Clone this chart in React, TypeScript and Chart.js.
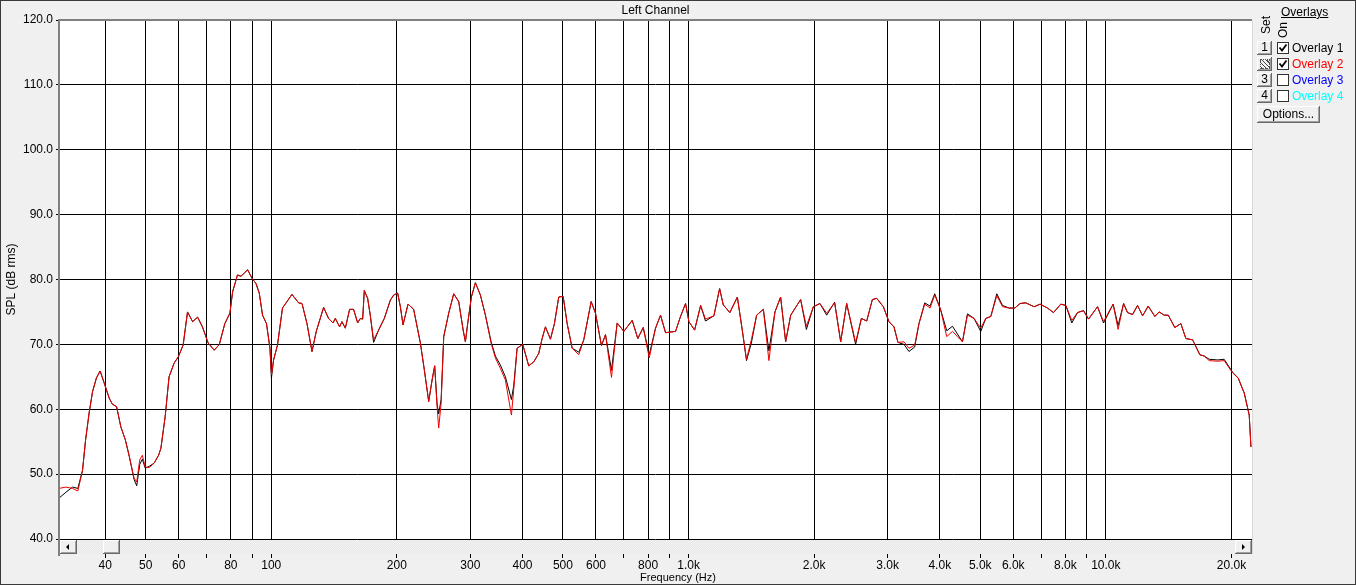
import React, { useEffect, useRef } from 'react';
import { Chart, registerables } from 'chart.js';

Chart.register(...registerables);

// ---------- data ----------
const FREQ_HZ = [
  31.0, 32.2, 33.4, 34.4, 35.3, 35.9, 36.6, 37.3, 38.1, 38.9,
  39.8, 40.9, 41.6, 42.6, 43.6, 44.7, 45.7, 46.9, 47.6, 48.4,
  49.1, 49.9, 51.0, 52.4, 53.7, 54.4, 55.7, 56.9, 58.5, 59.9,
  61.5, 63.0, 64.8, 66.6, 68.4, 70.6, 73.0, 75.1, 77.4, 79.6,
  80.8, 83.0, 84.6, 86.2, 87.8, 89.9, 91.9, 93.6, 95.3, 97.4,
  99.3, 100.1, 101.3, 103.5, 106.4, 112.1, 116.3, 118.5, 121.8, 125.2,
  128.2, 133.5, 137.2, 140.6, 142.4, 145.8, 147.7, 150.5, 154.1, 157.5,
  161.1, 163.5, 165.6, 167.1, 170.2, 172.7, 175.9, 180.8, 186.6, 192.9,
  196.5, 200.9, 203.9, 206.9, 212.7, 219.4, 227.7, 232.8, 238.4, 242.9,
  246.4, 249.7, 251.9, 255.3, 259.0, 266.2, 273.7, 281.3, 288.3, 291.9,
  295.6, 301.7, 308.5, 317.1, 326.0, 336.4, 344.5, 354.1, 364.0, 376.3,
  381.1, 388.3, 400.5, 414.0, 425.6, 437.5, 445.8, 454.0, 466.7, 477.1,
  488.6, 500.6, 511.8, 526.2, 545.7, 561.0, 584.3, 598.4, 618.5, 632.4,
  653.7, 674.5, 699.8, 732.8, 755.7, 778.8, 805.1, 833.5, 856.8, 880.7,
  930.7, 956.8, 983.5, 1002, 1034, 1069, 1098, 1150, 1187, 1211,
  1256, 1309, 1345, 1377, 1414, 1456, 1511, 1558, 1611, 1662,
  1709, 1757, 1856, 1916, 1991, 2065, 2143, 2239, 2315, 2393,
  2514, 2595, 2673, 2757, 2824, 2930, 3022, 3107, 3176, 3283,
  3375, 3483, 3566, 3681, 3791, 3890, 4021, 4156, 4290, 4409,
  4533, 4659, 4833, 5014, 5155, 5301, 5479, 5654, 5864, 6051,
  6230, 6429, 6731, 6958, 7247, 7491, 7799, 8019, 8288, 8553,
  8841, 9089, 9552, 9874, 10410, 10700, 11030, 11270, 11590, 11910,
  12250, 12630, 13110, 13420, 13800, 14110, 14630, 15130, 15550, 16140,
  16800, 17210, 17690, 18530, 19210, 20130, 20760, 21460, 22060, 22270,
];

// Overlay 2 (red)
const OVERLAY2_SPL = [
  47.8, 48.0, 47.8, 47.4, 50.6, 55.3, 59.4, 62.7, 64.8, 65.9,
  64.0, 61.7, 60.8, 60.4, 57.3, 55.3, 52.7, 49.4, 48.8, 52.2,
  52.9, 51.1, 51.0, 51.7, 52.9, 54.0, 58.9, 65.0, 67.1, 68.1,
  69.9, 75.0, 73.5, 74.2, 72.7, 70.2, 69.1, 70.0, 73.2, 74.8,
  78.1, 80.7, 80.5, 81.0, 81.5, 80.2, 79.4, 77.9, 74.5, 73.2,
  69.4, 65.3, 67.6, 69.9, 75.6, 77.7, 76.4, 76.3, 73.2, 68.9,
  72.0, 75.7, 74.0, 73.3, 74.0, 72.7, 73.5, 72.5, 75.4, 75.4,
  73.3, 74.0, 73.9, 78.3, 77.1, 74.5, 70.7, 72.2, 74.0, 76.8,
  77.6, 77.9, 75.8, 73.0, 76.2, 75.4, 70.2, 66.0, 61.2, 64.5,
  66.7, 60.4, 57.1, 60.9, 71.2, 74.8, 77.8, 76.6, 72.2, 70.4,
  73.2, 77.3, 79.5, 77.6, 74.5, 70.2, 67.9, 66.3, 64.5, 59.1,
  63.0, 69.4, 70.0, 66.7, 67.3, 68.6, 70.9, 72.7, 70.8, 73.2,
  77.3, 77.4, 73.2, 69.4, 68.4, 70.7, 76.6, 74.8, 69.8, 71.5,
  64.9, 73.3, 72.0, 73.7, 70.9, 72.6, 67.9, 72.5, 74.5, 71.8,
  72.0, 74.3, 76.3, 73.5, 72.2, 76.0, 73.9, 74.4, 78.6, 76.1,
  74.9, 77.3, 72.2, 67.7, 70.7, 74.5, 75.4, 67.5, 75.0, 77.3,
  70.4, 74.5, 76.9, 72.8, 75.8, 76.3, 74.8, 76.4, 70.4, 76.3,
  70.3, 74.0, 73.6, 76.9, 77.1, 75.8, 73.5, 72.7, 70.3, 70.4,
  69.4, 69.9, 73.2, 76.2, 75.6, 77.6, 75.3, 71.2, 72.0, 71.2,
  70.4, 74.5, 74.0, 72.5, 74.0, 74.3, 77.5, 75.8, 75.6, 75.6,
  76.3, 76.4, 75.8, 76.2, 75.6, 74.9, 76.2, 76.0, 73.7, 74.9,
  75.2, 73.9, 75.8, 73.5, 76.2, 72.3, 76.3, 74.9, 74.6, 76.0,
  74.4, 75.9, 74.3, 75.0, 74.5, 74.5, 72.6, 73.2, 70.9, 70.7,
  68.4, 68.2, 67.5, 67.4, 67.5, 65.6, 64.8, 62.5, 59.1, 54.2,
];

// Overlay 1 (black)
const OVERLAY1_SPL = [
  46.3, 47.2, 48.0, 47.8, 50.6, 55.3, 59.4, 62.7, 64.8, 65.9,
  64.0, 61.7, 60.8, 60.4, 57.3, 55.3, 52.7, 49.2, 48.2, 51.5,
  52.3, 50.9, 51.2, 51.7, 52.9, 54.0, 58.9, 65.0, 67.1, 68.1,
  69.9, 75.0, 73.5, 74.2, 72.7, 70.2, 69.1, 70.0, 73.2, 74.8,
  78.1, 80.7, 80.5, 81.0, 81.5, 80.2, 79.4, 77.9, 74.5, 73.2,
  69.4, 64.8, 67.6, 69.9, 75.6, 77.7, 76.4, 76.3, 73.2, 68.9,
  72.0, 75.7, 74.0, 73.3, 74.0, 72.7, 73.5, 72.5, 75.4, 75.4,
  73.3, 74.0, 73.9, 78.3, 77.1, 74.5, 70.3, 72.2, 74.0, 76.8,
  77.6, 77.9, 75.8, 73.0, 76.2, 75.4, 70.2, 66.0, 61.2, 64.5,
  66.7, 60.8, 59.3, 61.5, 71.2, 74.8, 77.8, 76.6, 72.2, 70.4,
  73.2, 77.3, 79.5, 77.6, 74.5, 70.4, 68.2, 66.8, 65.0, 61.5,
  63.6, 69.4, 70.0, 66.7, 67.3, 68.6, 70.9, 72.7, 70.8, 73.2,
  77.3, 77.4, 73.2, 69.4, 68.8, 70.7, 76.6, 74.8, 69.8, 71.5,
  66.0, 73.3, 72.0, 73.7, 70.9, 72.6, 68.4, 72.5, 74.5, 71.8,
  72.0, 74.3, 76.3, 73.5, 72.2, 76.0, 73.6, 74.4, 78.6, 76.1,
  74.9, 77.3, 72.2, 67.5, 70.2, 74.5, 75.4, 69.0, 75.0, 77.3,
  70.4, 74.5, 76.9, 72.3, 75.8, 76.3, 74.5, 76.5, 70.4, 76.3,
  70.0, 74.0, 73.6, 76.9, 77.1, 75.8, 73.5, 72.7, 70.3, 70.0,
  68.9, 69.6, 73.2, 76.4, 75.9, 77.8, 75.3, 72.1, 72.8, 71.6,
  70.4, 74.7, 74.0, 72.0, 74.0, 74.3, 77.8, 76.0, 75.6, 75.6,
  76.3, 76.4, 75.8, 76.2, 75.6, 74.9, 76.2, 76.0, 73.3, 74.9,
  75.2, 73.9, 75.8, 73.3, 76.2, 72.9, 76.3, 74.9, 74.6, 76.0,
  74.4, 75.9, 74.3, 75.0, 74.5, 74.5, 72.6, 73.2, 70.9, 70.7,
  68.4, 68.2, 67.7, 67.6, 67.7, 65.7, 64.8, 62.5, 59.1, 54.2,
];

const X_TICKS = [40, 50, 60, 70, 80, 90, 100, 200, 300, 400, 500, 600, 700, 800, 900,
  1000, 2000, 3000, 4000, 5000, 6000, 7000, 8000, 9000, 10000, 20000];
const X_TICK_LABELS = ['40', '50', '60', '', '80', '', '100', '200', '300', '400', '500', '600', '', '800', '',
  '1.0k', '2.0k', '3.0k', '4.0k', '5.0k', '6.0k', '', '8.0k', '', '10.0k', '20.0k'];
const Y_TICKS = [40, 50, 60, 70, 80, 90, 100, 110, 120];
const X_MIN = 31;
const X_MAX = 22400;
const Y_MIN = 40;
const Y_MAX = 120;
const X_AXIS_TITLE = 'Frequency (Hz)';

const OVERLAY_NAMES = ['Overlay 1', 'Overlay 2', 'Overlay 3', 'Overlay 4'];
const OVERLAY_COLORS = ['#000000', '#ff0000', '#0000ff', '#00ffff'];
const OVERLAY_ON = [true, true, false, false];
const OVERLAY_SET_LABELS = ['1', '', '3', '4'];

const FONT = "'Liberation Sans', Arial, sans-serif";

function bevel(ctx: CanvasRenderingContext2D, x: number, y: number, w: number, h: number) {
  ctx.fillStyle = '#f0f0f0';
  ctx.fillRect(x, y, w, h);
  ctx.fillStyle = '#ffffff';
  ctx.fillRect(x, y, w - 1, 1);
  ctx.fillRect(x, y, 1, h - 1);
  ctx.fillStyle = '#a0a0a0';
  ctx.fillRect(x + 1, y + h - 2, w - 2, 1);
  ctx.fillRect(x + w - 2, y + 1, 1, h - 2);
  ctx.fillStyle = '#696969';
  ctx.fillRect(x, y + h - 1, w, 1);
  ctx.fillRect(x + w - 1, y, 1, h);
}

const framePlugin = {
  id: 'framePlugin',
  beforeDraw(chart: any) {
    const { ctx, chartArea: a, width, height } = chart;
    ctx.save();
    ctx.fillStyle = '#f0f0f0';
    ctx.fillRect(0, 0, width, height);
    ctx.fillStyle = '#ffffff';
    ctx.fillRect(a.left, a.top, a.right - a.left, a.bottom - a.top);
    ctx.restore();
  },
  afterDraw(chart: any) {
    const { ctx, chartArea: a, width, height } = chart;
    ctx.save();
    // scrollbar under the plot
    const sbTop = Math.round(a.bottom) + 1;
    const sbH = 14;
    const L = Math.round(a.left);
    const R = Math.round(a.right);
    ctx.fillStyle = '#f4f4f4';
    ctx.fillRect(L, sbTop, R - L, sbH);
    ctx.fillStyle = '#e6e6e6';
    for (let yy = sbTop; yy < sbTop + sbH; yy++) {
      for (let xx = L + ((yy - sbTop) % 2); xx < R; xx += 2) {
        ctx.fillRect(xx, yy, 1, 1);
      }
    }
    // left arrow button
    bevel(ctx, L + 1, sbTop, 17, sbH);
    ctx.fillStyle = '#000';
    ctx.beginPath();
    ctx.moveTo(L + 7, sbTop + 7);
    ctx.lineTo(L + 10, sbTop + 4);
    ctx.lineTo(L + 10, sbTop + 10);
    ctx.closePath();
    ctx.fill();
    // thumb
    bevel(ctx, L + 44, sbTop, 17, sbH);
    // right arrow button
    bevel(ctx, R - 17, sbTop, 17, sbH);
    ctx.fillStyle = '#000';
    ctx.beginPath();
    ctx.moveTo(R - 7, sbTop + 7);
    ctx.lineTo(R - 10, sbTop + 4);
    ctx.lineTo(R - 10, sbTop + 10);
    ctx.closePath();
    ctx.fill();
    // sunken plot border (top / left)
    ctx.fillStyle = '#808080';
    ctx.fillRect(L - 1, Math.round(a.top) - 1, R - L + 1, 2);
    ctx.fillRect(L - 1, Math.round(a.top) - 1, 2, sbTop + sbH - Math.round(a.top) + 3);
    ctx.fillStyle = '#d8d8d8';
    ctx.fillRect(R, Math.round(a.top) + 1, 1, sbTop + sbH - Math.round(a.top) - 1);
    // x-axis title (centred on the window, as in the original app)
    ctx.fillStyle = '#000';
    ctx.font = `11px ${FONT}`;
    ctx.textAlign = 'center';
    ctx.textBaseline = 'middle';
    ctx.fillText(X_AXIS_TITLE, width / 2, 578);
    // outer frame
    ctx.strokeStyle = '#3a3a3a';
    ctx.lineWidth = 1;
    ctx.strokeRect(0.5, 0.5, width - 1, height - 1);
    ctx.restore();
  },
};

const btnStyle: React.CSSProperties = {
  position: 'absolute',
  boxSizing: 'border-box',
  background: '#f0f0f0',
  boxShadow: 'inset -1px -1px #696969, inset 1px 1px #ffffff, inset -2px -2px #a0a0a0',
  font: `12px ${FONT}`,
  color: '#000',
  textAlign: 'center',
};

export default function App() {
  const canvasRef = useRef<HTMLCanvasElement | null>(null);

  useEffect(() => {
    document.body.style.margin = '0';
    const canvas = canvasRef.current;
    if (!canvas) return;
    const chart = new Chart(canvas, {
      type: 'line',
      data: {
        datasets: [
          {
            label: 'Overlay 2',
            data: FREQ_HZ.map((f, i) => ({ x: f, y: OVERLAY2_SPL[i] })),
            borderColor: '#f00000',
            borderWidth: 1,
            pointRadius: 0,
            tension: 0,
            fill: false,
          },
          {
            label: 'Overlay 1',
            data: FREQ_HZ.map((f, i) => ({ x: f, y: OVERLAY1_SPL[i] })),
            borderColor: '#000000',
            borderWidth: 1,
            pointRadius: 0,
            tension: 0,
            fill: false,
          },
        ],
      },
      options: {
        animation: false,
        responsive: false,
        events: [],
        layout: { padding: { left: 0, right: 104, top: 0, bottom: 0 } },
        plugins: {
          legend: { display: false },
          tooltip: { enabled: false },
          title: {
            display: true,
            fullSize: false,
            text: 'Left Channel',
            color: '#000',
            font: { family: FONT, size: 12, weight: 'normal', lineHeight: 1.2 },
            padding: { top: 3, bottom: 2.6 },
          },
        },
        scales: {
          x: {
            type: 'logarithmic',
            min: X_MIN,
            max: X_MAX,
            afterBuildTicks: (s: any) => {
              s.ticks = X_TICKS.map((v) => ({ value: v }));
            },
            afterFit: (s: any) => {
              s.height = 46;
            },
            ticks: {
              autoSkip: false,
              maxRotation: 0,
              minRotation: 0,
              padding: 0,
              color: '#000',
              font: { family: FONT, size: 12 },
              callback: (_v: any, i: number) => X_TICK_LABELS[i],
            },
            grid: { color: '#000', lineWidth: 1, drawTicks: true, tickLength: 19, tickColor: '#000' },
            border: { display: false },
            title: { display: false },
          },
          y: {
            type: 'linear',
            min: Y_MIN,
            max: Y_MAX,
            afterBuildTicks: (s: any) => {
              s.ticks = Y_TICKS.map((v) => ({ value: v }));
            },
            afterFit: (s: any) => {
              s.width = 59;
            },
            ticks: {
              padding: 3,
              color: '#000',
              font: { family: FONT, size: 12 },
              callback: (v: any) => Number(v).toFixed(1),
            },
            grid: { color: '#000', lineWidth: 1, tickLength: 3, tickColor: '#000' },
            border: { display: false },
            title: {
              display: true,
              text: 'SPL (dB rms)',
              color: '#000',
              font: { family: FONT, size: 12 },
              padding: { top: 4.8, bottom: 0 },
            },
          },
        },
      },
      plugins: [framePlugin],
    } as any);
    return () => chart.destroy();
  }, []);

  const textBase: React.CSSProperties = {
    position: 'absolute',
    font: `12px ${FONT}`,
    lineHeight: '14px',
    whiteSpace: 'nowrap',
  };

  return (
    <div style={{ position: 'relative', width: 1356, height: 585, overflow: 'hidden', background: '#f0f0f0' }}>
      <canvas ref={canvasRef} width={1356} height={585} style={{ display: 'block' }} />
      <div style={{ ...textBase, left: 1281, top: 5, textDecoration: 'underline', color: '#000' }}>Overlays</div>
      <div style={{ ...textBase, left: 1256, top: 18, width: 20, textAlign: 'center', transform: 'rotate(-90deg)', color: '#000' }}>Set</div>
      <div style={{ ...textBase, left: 1273, top: 23, width: 20, textAlign: 'center', transform: 'rotate(-90deg)', color: '#000' }}>On</div>
      {OVERLAY_NAMES.map((name, i) => {
        const cy = 48 + 16 * i;
        return (
          <React.Fragment key={name}>
            <div style={{ ...btnStyle, left: 1257, top: cy - 7, width: 15, height: 14, lineHeight: '13px' }}>
              {OVERLAY_SET_LABELS[i] !== '' ? (
                OVERLAY_SET_LABELS[i]
              ) : (
                <div
                  style={{
                    position: 'absolute',
                    left: 3,
                    top: 2,
                    width: 8,
                    height: 8,
                    border: '1px dotted #555',
                    background: 'repeating-linear-gradient(45deg, #444 0 1px, transparent 1px 3px)',
                  }}
                />
              )}
            </div>
            <div
              style={{
                position: 'absolute',
                left: 1277,
                top: cy - 6,
                width: 12,
                height: 12,
                boxSizing: 'border-box',
                border: '1px solid #333',
                background: '#fff',
              }}
            >
              {OVERLAY_ON[i] ? (
                <svg width="10" height="10" style={{ position: 'absolute', left: 0, top: 0 }}>
                  <polyline points="1.5,4.5 4,7.5 8.5,1.5" fill="none" stroke="#000" strokeWidth="1.8" />
                </svg>
              ) : null}
            </div>
            <div style={{ ...textBase, left: 1292, top: cy - 7, color: OVERLAY_COLORS[i] }}>{name}</div>
          </React.Fragment>
        );
      })}
      <div style={{ ...btnStyle, left: 1257, top: 106, width: 63, height: 17, lineHeight: '16px' }}>Options...</div>
    </div>
  );
}
